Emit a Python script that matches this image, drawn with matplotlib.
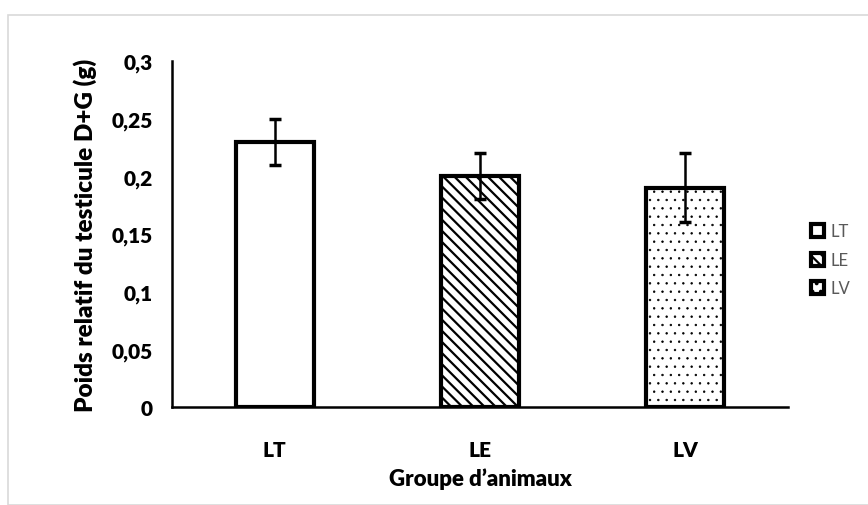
import matplotlib
matplotlib.use("Agg")
import matplotlib.pyplot as plt
from matplotlib.patches import Rectangle, Patch

plt.rcParams["font.family"] = ["Lato", "DejaVu Sans"]
plt.rcParams["hatch.linewidth"] = 1.6

# Data
groups = ["LT", "LE", "LV"]
values = [0.23, 0.20, 0.19]
errors = [0.02, 0.02, 0.03]
hatches = ["", "\\\\\\", ".."]
y_ticks = [0, 0.05, 0.1, 0.15, 0.2, 0.25, 0.3]
y_tick_labels = ["0", "0,05", "0,1", "0,15", "0,2", "0,25", "0,3"]

fig = plt.figure(figsize=(8.68, 5.06), dpi=100)
# light frame around the chart area
fig.patches.append(Rectangle((8 / 868, 0.0), 1.0, 1 - 16 / 506, transform=fig.transFigure,
                             fill=False, edgecolor="#d9d9d9", linewidth=1.2))

ax = fig.add_axes([172 / 868, 1 - 408 / 506, 616 / 868, 346 / 506])
x = range(len(groups))
bars = ax.bar(x, values, width=0.38, color="white", edgecolor="black", linewidth=3, zorder=2)
for bar, h in zip(bars, hatches):
    bar.set_hatch(h)
try:
    bars[2].set_hatch_linewidth(0.5)
except AttributeError:
    pass
ax.errorbar(x, values, yerr=errors, fmt="none", ecolor="black", elinewidth=1.8,
            capsize=4, capthick=2.5, zorder=3)

ax.set_xlim(-0.5, 2.5)
ax.set_ylim(0, 0.3)
ax.set_yticks(y_ticks)
ax.set_yticklabels(y_tick_labels, fontsize=15, fontweight="heavy")
ax.set_xticks(list(x))
ax.set_xticklabels(groups, fontsize=15, fontweight="heavy")
ax.tick_params(axis="y", length=0, pad=14)
ax.tick_params(axis="x", length=0, pad=24)
for side in ["top", "right"]:
    ax.spines[side].set_visible(False)
ax.spines["left"].set_linewidth(1.8)
ax.spines["bottom"].set_linewidth(1.8)
ax.set_ylabel("Poids relatif du testicule D+G (g)", fontsize=17.5, fontweight="heavy", labelpad=10)
ax.set_xlabel("Groupe d\u2019animaux", fontsize=16, fontweight="heavy", labelpad=6)

handles = [Patch(facecolor="white", edgecolor="black", linewidth=3, hatch=h) for h in hatches]
leg = fig.legend(handles, groups, loc="center left", bbox_to_anchor=(811 / 868, 1 - 261 / 506),
                 frameon=False, fontsize=12, handlelength=0.8, handleheight=0.8,
                 handletextpad=0.35, labelspacing=0.75, labelcolor="#595959",
                 borderaxespad=0, borderpad=0)

fig.savefig("out.png", dpi=100)
